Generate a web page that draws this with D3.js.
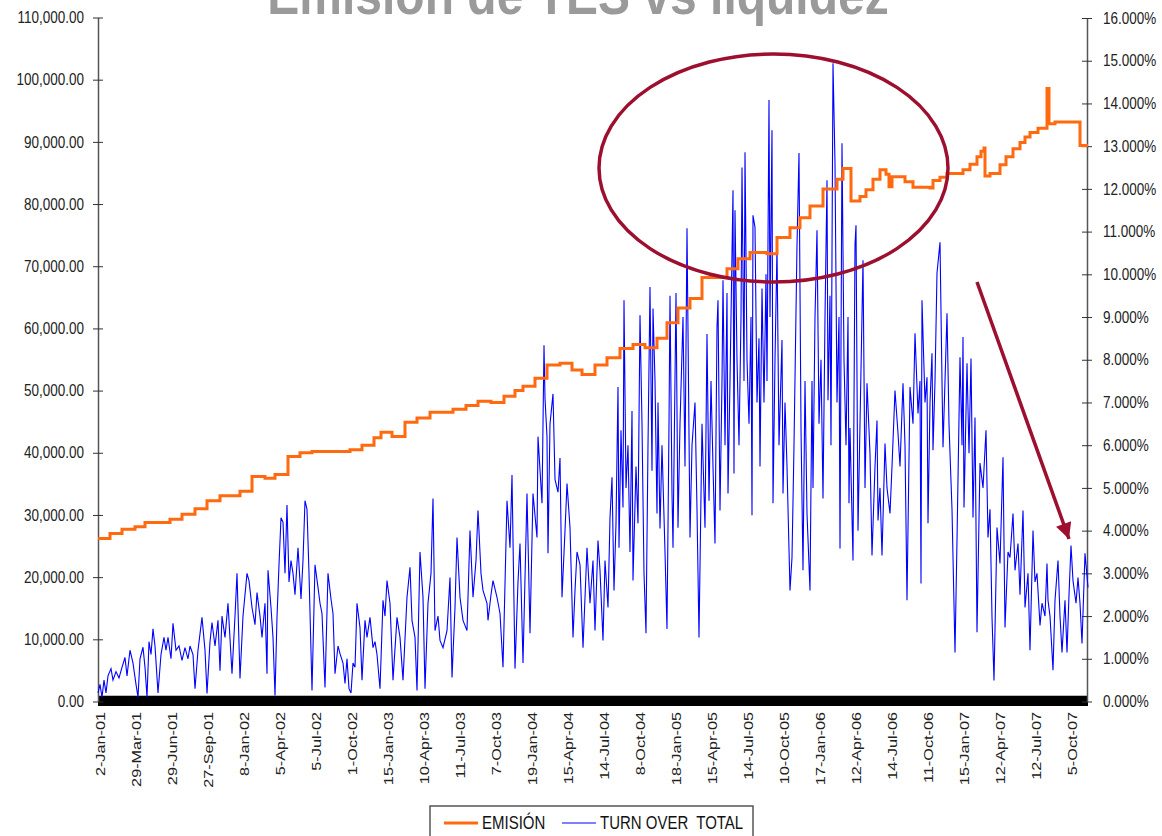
<!DOCTYPE html>
<html>
<head>
<meta charset="utf-8">
<script src="https://cdn.jsdelivr.net/npm/d3@7/dist/d3.min.js"></script>
<style>
  body { margin: 0; background: #fff; }
  svg text { font-family: "Liberation Sans", Arial, sans-serif; }
</style>
</head>
<body>
<script>
// Etiquetas del eje X (una cada 72 observaciones)
var xLabels = ["2-Jan-01","29-Mar-01","29-Jun-01","27-Sep-01","8-Jan-02","5-Apr-02","5-Jul-02","1-Oct-02",
  "15-Jan-03","10-Apr-03","11-Jul-03","7-Oct-03","19-Jan-04","15-Apr-04","14-Jul-04","8-Oct-04",
  "18-Jan-05","15-Apr-05","14-Jul-05","10-Oct-05","17-Jan-06","12-Apr-06","14-Jul-06","11-Oct-06",
  "15-Jan-07","12-Apr-07","12-Jul-07","5-Oct-07"];
var labelStart = 4, labelStep = 72, lastObs = 1980;

// EMISIÓN (escalones): observación donde cambia y saldo
var emisionObs = [0,24,48,74,94,144,168,194,218,244,284,308,334,354,380,404,428,504,528,552,566,588,614,638,664,
  710,736,760,786,812,834,850,874,898,924,948,968,994,1018,1044,1070,1094,1118,1138,1160,1184,1208,1258,1280,
  1304,1338,1358,1384,1404,1424,1450,1478,1490,1506,1524,1536,1550,1564,1576,1582,1588,1614,1630,1664,1670,
  1684,1698,1730,1744,1758,1766,1772,1774,1784,1804,1816,1830,1844,1854,1864,1880,1898,1902,1914,1964,1980];
var emisionVal = [26200,27000,27700,28100,28800,29300,30100,31000,32300,33100,33800,36200,35900,36500,39400,40000,40200,40500,41200,42400,43300,42600,44900,45600,46500,
  47000,47600,48300,48100,49100,50000,50700,52000,54100,54400,53300,52600,54100,55300,56750,57400,56900,58400,60900,63300,64800,68200,69600,71200,
  72200,72000,74600,76200,77800,79700,82400,84000,85700,80500,81200,82300,84000,85500,84800,82800,84400,83600,82700,82600,83800,
  84300,84900,85500,86400,87600,88500,89000,84500,84900,86300,87600,88900,89900,90800,91500,92200,98600,92900,93200,89400,89400];

// TURN OVER TOTAL (%)
var turnObs = [0,4,8,12,16,20,26,30,36,42,48,54,58,64,70,76,80,84,90,94,98,102,106,110,114,120,126,132,136,140,146,150,156,162,168,174,180,184,190,194,
  200,208,214,218,224,228,234,240,244,248,254,260,268,274,278,284,290,298,302,308,314,318,324,328,334,338,340,346,350,354,358,362,366,370,374,378,382,386,390,394,
  400,406,410,414,418,422,428,434,440,444,448,454,460,466,470,474,480,484,
  490,494,498,502,506,510,514,518,524,528,534,538,544,550,554,558,564,570,574,578,584,590,598,604,610,618,624,628,634,638,644,650,654,660,666,670,674,680,684,690,698,
  704,708,714,718,724,730,738,744,750,756,760,766,770,778,780,786,790,798,804,810,818,824,828,834,840,844,850,858,864,870,878,880,888,892,894,898,900,904,910,914,920,
  924,928,934,938,944,950,954,958,964,970,978,984,990,994,1000,1004,1010,1014,1020,
  1024,1028,1032,1036,1040,1042,1046,1050,1052,1056,1060,1064,1068,1070,1076,1080,1084,1088,1092,1096,1100,1104,1108,1110,1114,1118,1120,1124,1128,1134,1138,1142,1144,
  1148,1150,1156,1160,1164,1170,1174,1178,1184,1188,1194,1198,1202,1208,1214,1218,1222,1226,1230,1234,1238,1240,1244,1248,1250,1254,1258,1260,1264,1270,1272,1274,1278,
  1282,1286,1288,1292,1294,1298,1302,1306,1308,1310,1314,1318,1322,1324,1328,1332,1336,1338,1342,1344,1348,1350,1354,1358,1362,1368,1370,1374,1378,1384,1388,1392,1398,
  1402,1406,1410,1414,1418,1424,1428,1430,1434,1438,1442,1446,1450,1454,1458,1460,1464,1466,1470,1474,1478,1482,1484,1488,1492,1496,1500,1502,
  1504,1510,1514,1516,1520,1524,1530,1534,1538,1544,1548,1554,1558,1560,1564,1568,1574,1578,1584,1588,1594,1600,1604,1610,1614,1618,1624,1630,1634,1640,1644,1646,1648,
  1654,1658,1660,1664,1668,1670,1674,1678,1684,1688,1690,1694,1698,1702,1704,1708,1714,1718,1724,1728,1730,1732,1738,1742,1746,1750,1754,1758,1764,1770,1776,1780,1784,
  1788,1792,1798,1804,1810,1814,1820,1824,1830,1834,1840,1844,1850,1854,1860,1864,1870,1874,1878,1884,1888,1894,1898,1900,1904,1910,1914,1920,1924,1928,1934,1938,1942,
  1946,1950,1956,1960,1964,1968,1974,1980];
var turnPct = [0.2,0.4,0.1,0.5,0.2,0.6,0.77,0.5,0.7,0.55,0.8,1.03,0.6,1.2,0.9,0.4,0.1,1.0,1.27,0.8,0.1,1.4,1.1,1.7,1.3,0.2,1.1,1.5,1.2,1.5,1.0,1.83,1.2,1.3,0.96,1.26,1.0,1.3,1.1,0.3,
  1.2,1.97,1.2,0.19,1.4,1.85,1.3,1.9,0.72,2.0,1.5,2.3,0.65,2.0,3.0,0.54,2.0,3.0,2.83,2.2,1.8,2.55,2.0,1.5,2.3,0.65,3.07,2.2,1.5,0.14,1.97,3.2,4.3,4.2,3.0,4.6,2.8,3.3,3.0,2.5,
  3.6,2.4,3.3,4.7,4.5,3.0,0.26,3.2,2.67,2.3,2.06,0.33,3.0,2.4,2.06,0.65,1.3,1.12,
  0.9,0.42,1.0,0.3,0.2,0.9,0.8,2.3,1.73,0.5,1.9,1.5,1.97,1.26,1.4,1.1,0.3,2.37,2.0,2.83,2.3,0.5,1.97,1.5,0.5,2.44,3.14,1.9,1.5,0.26,3.5,2.44,0.3,2.3,3.0,4.75,1.66,2.0,1.43,1.26,1.66,
  2.9,0.56,2.2,3.84,2.44,1.9,1.66,4.0,2.44,3.3,4.47,3.0,2.6,2.3,1.9,2.5,2.83,2.44,2.06,0.8,4.7,3.6,5.3,0.77,2.8,3.7,0.9,4.87,1.6,4.87,3.84,6.2,4.64,8.34,7.1,6.2,3.47,6.5,7.2,5.2,4.9,
  5.7,2.44,4.0,5.1,4.07,1.5,2.6,3.5,3.2,1.26,3.6,2.3,3.3,1.66,3.77,3.07,1.43,3.3,2.2,
  4.3,5.25,2.6,4.17,7.36,3.6,6.35,4.54,9.39,5.0,6.0,3.5,6.8,2.83,5.5,4.17,9.04,6.5,3.0,1.6,6.0,9.7,5.4,9.2,7.5,4.4,7.0,4.05,6.0,3.5,1.7,6.5,9.5,
  4.87,3.6,9.56,4.07,6.5,9.0,5.5,11.08,3.84,6.0,7.0,4.5,1.5,6.5,4.07,8.6,4.7,7.5,5.5,3.7,8.76,9.39,4.47,7.5,9.86,6.0,9.56,4.87,7.5,11.97,5.34,11.5,8.0,
  6.0,9.0,12.5,7.5,12.86,8.0,6.5,9.0,4.36,11.38,11.1,7.0,8.5,5.5,9.67,7.0,10.0,7.5,14.08,9.0,13.37,4.64,8.0,10.63,6.0,8.46,4.87,7.0,5.5,2.6,3.37,6.0,10.68,
  12.84,6.4,3.07,7.5,4.4,2.6,7.5,5.0,9.0,11.03,6.5,8.0,4.75,9.0,12.2,7.05,9.5,6.0,14.94,12.6,7.0,9.0,3.58,13.07,8.0,6.0,9.0,4.64,
  6.4,3.3,10.7,11.15,4.0,6.5,10.33,5.0,7.45,5.8,3.42,5.5,6.58,4.24,5.0,3.42,6.04,5.0,4.4,5.5,7.28,6.28,5.5,7.45,6.0,2.37,7.36,6.5,8.62,6.74,7.5,2.76,9.39,
  7.0,7.59,4.17,7.0,8.15,5.88,7.5,10.03,10.75,7.5,5.95,7.5,9.09,6.5,5.81,4.5,1.15,3.77,8.06,6.0,8.53,4.54,7.92,5.81,8.03,4.31,6.65,1.62,5.58,5.0,6.35,3.84,4.5,
  1.97,0.49,4.07,3.23,5.72,1.73,3.5,3.37,4.4,3.07,3.7,2.5,4.47,2.2,3.0,1.2,4.0,2.8,3.0,1.78,2.3,2.0,3.23,2.37,2.0,0.73,2.37,3.3,2.0,1.15,2.37,1.15,2.5,
  3.65,2.83,2.3,2.9,2.3,1.36,3.47,2.67];

var leftTicks = d3.range(0, 110001, 10000);
var rightTicks = d3.range(0, 17, 1);

var width = 1162, height = 836;

var svg = d3.select("body").append("svg")
    .attr("width", width)
    .attr("height", height);

var x = d3.scaleLinear().domain([0, lastObs]).range([98, 1088]);
var yLeft = d3.scaleLinear().domain([0, 110000]).range([701.5, 17.5]);
var yRight = d3.scaleLinear().domain([0, 16]).range([701.5, 18]);

// titulo (cortado arriba como en la lamina)
svg.append("text")
    .attr("transform", "translate(578,14) scale(1,1.15)")
    .attr("text-anchor", "middle")
    .style("font-size", "48px").style("font-weight", "bold")
    .style("fill", "#9a9a9a")
    .text("Emisión de TES vs liquidez");

// barra negra del eje X
svg.append("rect")
    .attr("x", x(0)).attr("y", 696)
    .attr("width", x(lastObs) - x(0)).attr("height", 10)
    .attr("fill", "#000");
svg.append("line")
    .attr("x1", x(0)).attr("x2", x(lastObs))
    .attr("y1", 695.5).attr("y2", 695.5)
    .attr("stroke", "#bbb");

// eje izquierdo
var leftAxis = svg.append("g")
    .attr("transform", "translate(98,0)")
    .call(d3.axisLeft(yLeft).tickValues(leftTicks).tickFormat(d3.format(",.2f"))
        .tickSizeInner(5).tickSizeOuter(0).tickPadding(9));
leftAxis.selectAll(".tick line").attr("x1", 5).attr("stroke", "#333");
leftAxis.select(".domain").attr("stroke", "#555").attr("stroke-width", 1.5);
leftAxis.selectAll("text").style("font-size", "13.5px").style("fill", "#222")
    .attr("transform", "scale(1,1.2)")
    .style("font-family", "'Liberation Sans', Arial, sans-serif");

// eje derecho
var rightAxis = svg.append("g")
    .attr("transform", "translate(1087,0)")
    .call(d3.axisRight(yRight).tickValues(rightTicks).tickFormat(function (d) { return d.toFixed(3) + "%"; })
        .tickSizeInner(5).tickSizeOuter(0).tickPadding(11));
rightAxis.selectAll(".tick line").attr("x1", -5).attr("stroke", "#333");
rightAxis.select(".domain").attr("stroke", "#555").attr("stroke-width", 1.5);
rightAxis.selectAll("text").style("font-size", "13.5px").style("fill", "#222")
    .attr("transform", "scale(1,1.2)")
    .style("font-family", "'Liberation Sans', Arial, sans-serif");

// etiquetas X rotadas
svg.append("g").selectAll("text")
    .data(xLabels)
    .enter().append("text")
    .attr("transform", function (d, i) {
        return "translate(" + x(labelStart + i * labelStep) + ",712) rotate(-90) scale(1.25,1)";
    })
    .attr("dy", "0.35em")
    .attr("text-anchor", "end")
    .style("font-size", "13px").style("fill", "#222")
    .text(function (d) { return d; });

// series
var turnData = turnObs.map(function (o, i) { return [o, turnPct[i]]; });
var emisionData = emisionObs.map(function (o, i) { return [o, emisionVal[i]]; });

svg.append("path")
    .datum(turnData)
    .attr("fill", "none")
    .attr("stroke", "#0000ff")
    .attr("stroke-width", 1.1)
    .attr("d", d3.line().x(function (d) { return x(d[0]); }).y(function (d) { return yRight(d[1]); }));

svg.append("path")
    .datum(emisionData)
    .attr("fill", "none")
    .attr("stroke", "#ff6a10")
    .attr("stroke-width", 3)
    .attr("d", d3.line().curve(d3.curveStepAfter)
        .x(function (d) { return x(d[0]); }).y(function (d) { return yLeft(d[1]); }));

// anotaciones: elipse y flecha
var annot = "#9c0f2e";
svg.append("ellipse")
    .attr("cx", 773.5).attr("cy", 168).attr("rx", 174.5).attr("ry", 114)
    .attr("fill", "none").attr("stroke", annot).attr("stroke-width", 3.5);

svg.append("defs").append("marker")
    .attr("id", "head")
    .attr("viewBox", "0 0 10 10").attr("refX", 10).attr("refY", 5)
    .attr("markerUnits", "userSpaceOnUse")
    .attr("markerWidth", 18).attr("markerHeight", 16)
    .attr("orient", "auto")
    .append("path").attr("d", "M0,0L10,5L0,10z").attr("fill", annot);

svg.append("line")
    .attr("x1", 977).attr("y1", 282).attr("x2", 1069).attr("y2", 539)
    .attr("stroke", annot).attr("stroke-width", 3.5)
    .attr("marker-end", "url(#head)");

// leyenda
var legend = svg.append("g");
legend.append("rect")
    .attr("x", 430).attr("y", 806).attr("width", 323).attr("height", 40)
    .attr("fill", "#fff").attr("stroke", "#555").attr("stroke-width", 1.5);
var legendItems = [
    { name: "EMISIÓN", color: "#ff6a10", w: 3, x: 444, tx: 482 },
    { name: "TURN OVER  TOTAL", color: "#0000ff", w: 1.2, x: 562, tx: 600 }
];
legend.selectAll("line.key").data(legendItems).enter().append("line")
    .attr("x1", function (d) { return d.x; }).attr("x2", function (d) { return d.x + 34; })
    .attr("y1", 823).attr("y2", 823)
    .attr("stroke", function (d) { return d.color; })
    .attr("stroke-width", function (d) { return d.w; });
legend.selectAll("text").data(legendItems).enter().append("text")
    .attr("transform", function (d) { return "translate(" + d.tx + ",829) scale(1,1.2)"; })
    .style("font-size", "15px").style("fill", "#111")
    .attr("xml:space", "preserve")
    .text(function (d) { return d.name; });
</script>
</body>
</html>
